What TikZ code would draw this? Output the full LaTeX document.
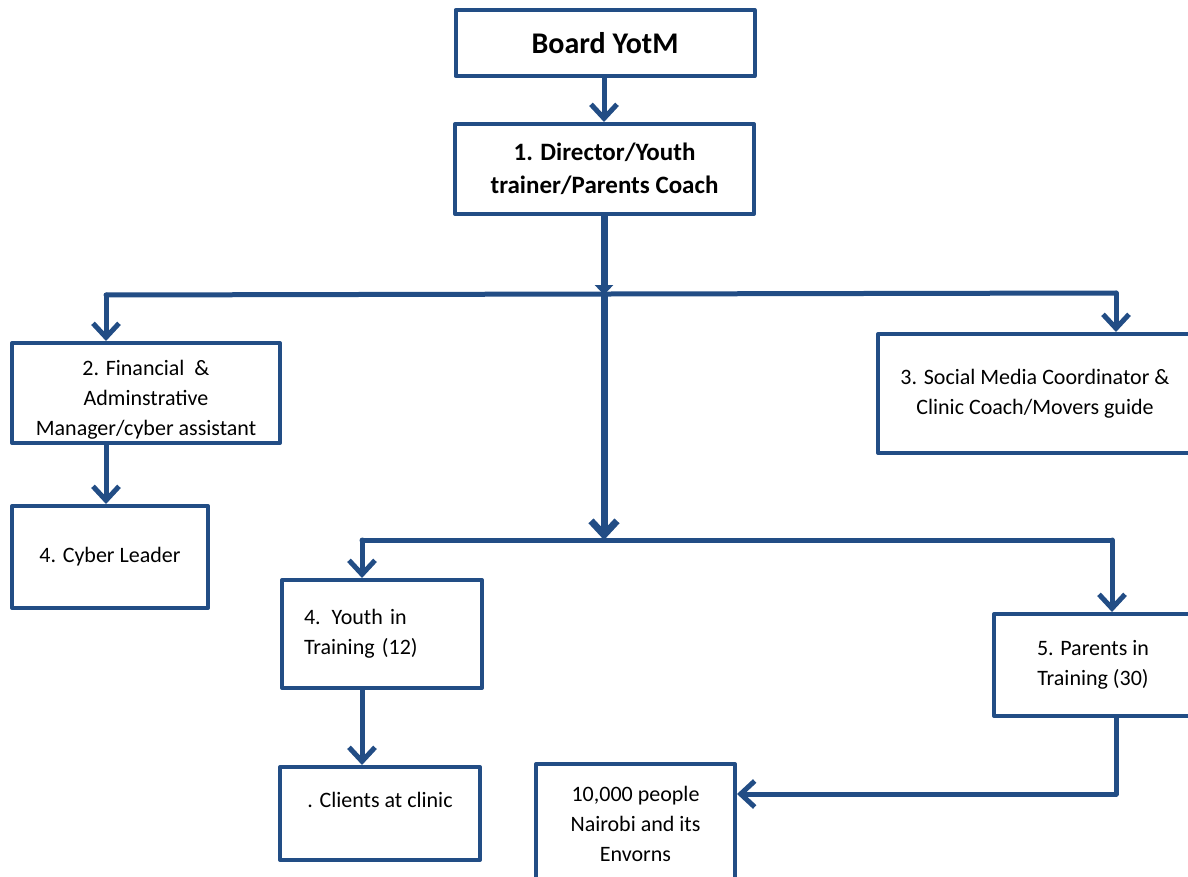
\documentclass[tikz,border=0pt]{standalone}
\usepackage{fontspec}
\setmainfont{Carlito}
\usepackage{tikz}
\usetikzlibrary{arrows.meta}

\definecolor{orgblue}{RGB}{34,77,133}

\begin{document}
\begin{tikzpicture}[x=0.5pt,y=-0.5pt,->,>={Straight Barb[length=7pt,width=13pt]},line width=2.5pt,draw=orgblue,line cap=round,line join=round]
                \tikzstyle{box}=[rectangle,draw=orgblue,line width=2pt,fill=none,text=black,align=center,inner sep=2pt,font=\fontsize{11}{15}\selectfont]
                \tikzstyle{head}=[box,font=\bfseries\fontsize{12.5}{16.5}\selectfont]
                \tikzstyle{inner}=[align=center,text=black,font=\fontsize{11}{15}\selectfont]
                \tikzstyle{trunk}=[line width=3.5pt]

                \useasboundingbox (0,0) rectangle (1188,877);

                \node[head,font=\bfseries\fontsize{15}{18}\selectfont,minimum width=149.5pt,minimum height=33pt] (board)    at (605,43)    {Board YotM};
                \node[head,minimum width=149.5pt,minimum height=45pt] (director) at (604.5,169) {1. Director/Youth\\trainer/Parents Coach};
                \node[box,minimum width=134pt,minimum height=50pt,
                      label={[inner,yshift=-3.5pt]center:2. Financial~ \&\\Adminstrative\\Manager/cyber assistant}] (fin) at (146,393) {};
                \node[box,minimum width=157pt,minimum height=59.5pt]  (social)   at (1035,393.5) {3. Social Media Coordinator \&\\Clinic Coach/Movers guide};
                \node[box,minimum width=98pt,minimum height=51pt]     (cyber)    at (110,557)   {4. Cyber Leader};
                \node[box,text width=78pt,align=left,inner xsep=11pt,minimum height=54pt] (youth) at (382,634) {4. Youth in\\Training (12)};
                \node[box,minimum width=99pt,minimum height=51pt]     (parents)  at (1093,665)  {5. Parents in\\Training (30)};
                \node[box,minimum width=100pt,minimum height=46.5pt,
                      label={[inner,yshift=7pt]center:. Clients at clinic}] (clients) at (380,813.5) {};
                \node[box,minimum width=99.5pt,minimum height=60pt]   (people)   at (635.5,824) {10,000 people\\Nairobi and its\\Envorns};

                % branch points
                \coordinate (j1) at (604,295);
                \coordinate (jl) at (106,295);
                \coordinate (jr) at (1116,293);
                \coordinate (j2) at (604,540);
                \coordinate (kl) at (362,540);
                \coordinate (kr) at (1112,540);
                \coordinate (pp) at (1116,794);

                \draw (board.south -| director.north) ++(-0.5,0) -- ([xshift=-0.25pt]director.north);
                \draw[trunk,-{Triangle[length=5pt,width=9pt]}] (director.south -| j1) -- (j1);
                \draw[-] (jl) -- (jr);
                \draw (jl) -- (jl |- fin.north);
                \draw (jr) -- (jr |- social.north);
                \draw[trunk] (j1) -- (j2);
                \draw[-] (kl) -- (kr);
                \draw (kl) -- (kl |- youth.north);
                \draw (kr) -- (kr |- parents.north);
                \draw (jl |- fin.south) -- (jl |- cyber.north);
                \draw (kl |- youth.south) -- (kl |- clients.north);
                \draw (parents.south -| pp) -- (pp) -- (pp -| people.east);
\end{tikzpicture}
\end{document}
